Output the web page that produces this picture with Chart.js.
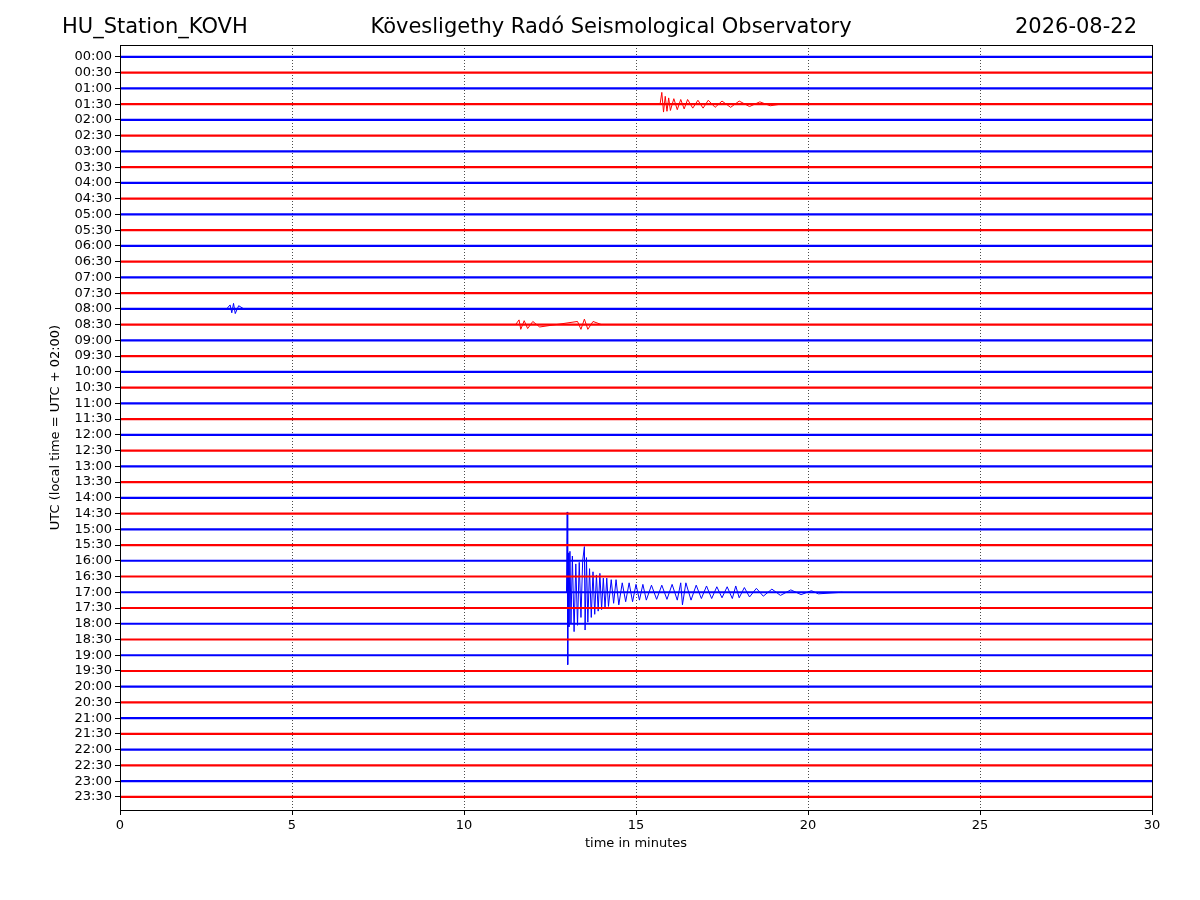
<!DOCTYPE html>
<html>
<head>
<meta charset="utf-8">
<script src="https://cdn.jsdelivr.net/npm/chart.js@4"></script>
<style>
  body { margin:0; background:#fff; }
  #wrap { width:1200px; height:900px; position:relative; }
</style>
</head>
<body>
<div id="wrap"><canvas id="c" width="1200" height="900"></canvas></div>
<script>
// ── data ─────────────────────────────────────────────────────────────────────
const TRACE_LABELS = [];
for (let h = 0; h < 24; h++) {
  const hh = String(h).padStart(2, "0");
  TRACE_LABELS.push(hh + ":00", hh + ":30");
}
const X_TICKS = [0, 5, 10, 15, 20, 25, 30];
const TRACE_COLORS = ["#0000ff", "#ff0000"];

// events: [minute, offset in trace spacings, + is downward]
const EVENT_1700 = [
  [12.98,0],[13.0,-5.1],[13.015,4.6],[13.03,-2.5],[13.05,2.2],[13.08,-2.6],[13.11,2.0],
  [13.15,-2.3],[13.2,2.5],[13.25,-1.8],[13.3,2.1],[13.35,-1.9],[13.4,1.6],[13.45,-2.0],
  [13.5,-2.9],[13.52,2.4],[13.56,-2.2],[13.6,1.9],[13.65,-1.5],[13.7,1.6],[13.75,-1.3],
  [13.8,1.4],[13.85,-1.1],[13.9,1.2],[13.95,-1.2],[14.0,1.1],[14.05,-0.9],[14.1,1.0],
  [14.15,-0.9],[14.2,0.9],[14.28,-0.8],[14.35,0.7],[14.42,-0.8],[14.5,0.8],[14.6,-0.6],
  [14.7,0.6],[14.8,-0.6],[14.9,0.6],[15.0,-0.5],[15.1,0.5],[15.2,-0.5],[15.3,0.5],
  [15.45,-0.45],[15.6,0.45],[15.75,-0.45],[15.9,0.45],[16.05,-0.5],[16.2,0.5],
  [16.3,-0.6],[16.35,0.8],[16.45,-0.6],[16.6,0.5],[16.75,-0.45],[16.9,0.4],[17.05,-0.4],
  [17.2,0.4],[17.35,-0.35],[17.5,0.35],[17.65,-0.35],[17.8,0.4],[17.9,-0.4],[18.0,0.35],
  [18.15,-0.3],[18.3,0.3],[18.5,-0.25],[18.7,0.25],[18.95,-0.2],[19.2,0.2],[19.5,-0.15],
  [19.8,0.15],[20.1,-0.1],[20.3,0.1],[21.0,0]
];
const EVENT_0130 = [
  [15.7,0],[15.75,-0.75],[15.8,0.5],[15.85,-0.5],[15.9,0.45],[15.95,-0.4],[16.0,0.4],
  [16.1,-0.35],[16.2,0.35],[16.3,-0.3],[16.4,0.3],[16.5,-0.3],[16.65,0.25],[16.8,-0.25],
  [16.95,0.25],[17.1,-0.25],[17.3,0.2],[17.5,-0.2],[17.75,0.2],[18.0,-0.2],[18.3,0.15],
  [18.6,-0.15],[18.9,0.1],[19.2,0]
];
const EVENT_0800 = [[3.1,0],[3.2,-0.25],[3.25,0.25],[3.3,-0.35],[3.35,0.3],[3.45,-0.2],[3.6,0]];
const EVENT_0830 = [
  [11.5,0],[11.6,-0.3],[11.65,0.3],[11.75,-0.25],[11.85,0.25],[12.0,-0.2],[12.2,0.15],
  [13.3,-0.2],[13.4,0.3],[13.5,-0.35],[13.6,0.3],[13.75,-0.2],[14.0,0]
];
const EVENTS = [[34, EVENT_1700], [3, EVENT_0130], [16, EVENT_0800], [17, EVENT_0830]];

// ── datasets ─────────────────────────────────────────────────────────────────
const datasets = TRACE_LABELS.map((_, i) => ({
  data: [{ x: 0, y: i }, { x: 30, y: i }],
  borderColor: TRACE_COLORS[i % 2], borderWidth: 2.2, pointRadius: 0,
}));
EVENTS.forEach(([idx, ev]) => datasets.push({
  data: ev.map(([x, o]) => ({ x, y: idx + o })),
  borderColor: TRACE_COLORS[idx % 2], borderWidth: 1, pointRadius: 0, tension: 0,
}));

const decorPlugin = {
  id: "decor",
  beforeDatasetsDraw(chart) {
    const { ctx, chartArea: a, scales: { x } } = chart;
    ctx.save();
    ctx.strokeStyle = "#000"; ctx.lineWidth = 0.7; ctx.setLineDash([1, 2]);
    X_TICKS.slice(1, -1).forEach(v => {
      const px = Math.round(x.getPixelForValue(v)) + 0.5;
      ctx.beginPath(); ctx.moveTo(px, a.top); ctx.lineTo(px, a.bottom); ctx.stroke();
    });
    ctx.restore();
  },
  afterDraw(chart) {
    const { ctx, chartArea: a } = chart;
    ctx.save();
    ctx.strokeStyle = "#000"; ctx.lineWidth = 1;
    ctx.strokeRect(Math.round(a.left) + 0.5, Math.round(a.top) + 0.5, Math.round(a.right - a.left), Math.round(a.bottom - a.top));
    ctx.fillStyle = "#000";
    ctx.font = "21px 'DejaVu Sans'";
    ctx.textBaseline = "middle";
    ctx.textAlign = "left";  ctx.fillText("HU_Station_KOVH", 62, 28);
    ctx.textAlign = "center"; ctx.fillText("Kövesligethy Radó Seismological Observatory", 611, 28);
    ctx.textAlign = "right"; ctx.fillText("2026-08-22", 1137, 28);
    ctx.restore();
  }
};

new Chart(document.getElementById("c"), {
  type: "line",
  data: { datasets },
  plugins: [decorPlugin],
  options: {
    responsive: false, animation: false,
    layout: { padding: { top: 45, right: 48, left: 48, bottom: 45 } },
    plugins: { legend: { display: false }, tooltip: { enabled: false } },
    scales: {
      x: {
        type: "linear", min: 0, max: 30,
        afterFit: s => { s.height = 45; },
        afterBuildTicks: s => { s.ticks = X_TICKS.map(v => ({ value: v })); },
        ticks: { color: "#000", font: { family: "DejaVu Sans", size: 13 }, maxRotation: 0 },
        grid: { drawOnChartArea: false, tickColor: "#000", tickLength: 5 },
        border: { color: "#000", width: 1 },
        title: { display: true, text: "time in minutes", color: "#000", font: { family: "DejaVu Sans", size: 13 }, padding: { top: 2 } },
      },
      y: {
        type: "linear", reverse: true, min: -0.76, max: 47.83,
        afterFit: s => { s.width = 72; },
        afterBuildTicks: s => { s.ticks = TRACE_LABELS.map((_, i) => ({ value: i })); },
        ticks: { color: "#000", font: { family: "DejaVu Sans", size: 13 }, autoSkip: false,
                 callback: v => TRACE_LABELS[v] },
        grid: { drawOnChartArea: false, tickColor: "#000", tickLength: 5 },
        border: { color: "#000", width: 1 },
        title: { display: true, text: "UTC (local time = UTC + 02:00)", color: "#000", font: { family: "DejaVu Sans", size: 13 }, padding: 0 },
      },
    },
  },
});
</script>
</body>
</html>
